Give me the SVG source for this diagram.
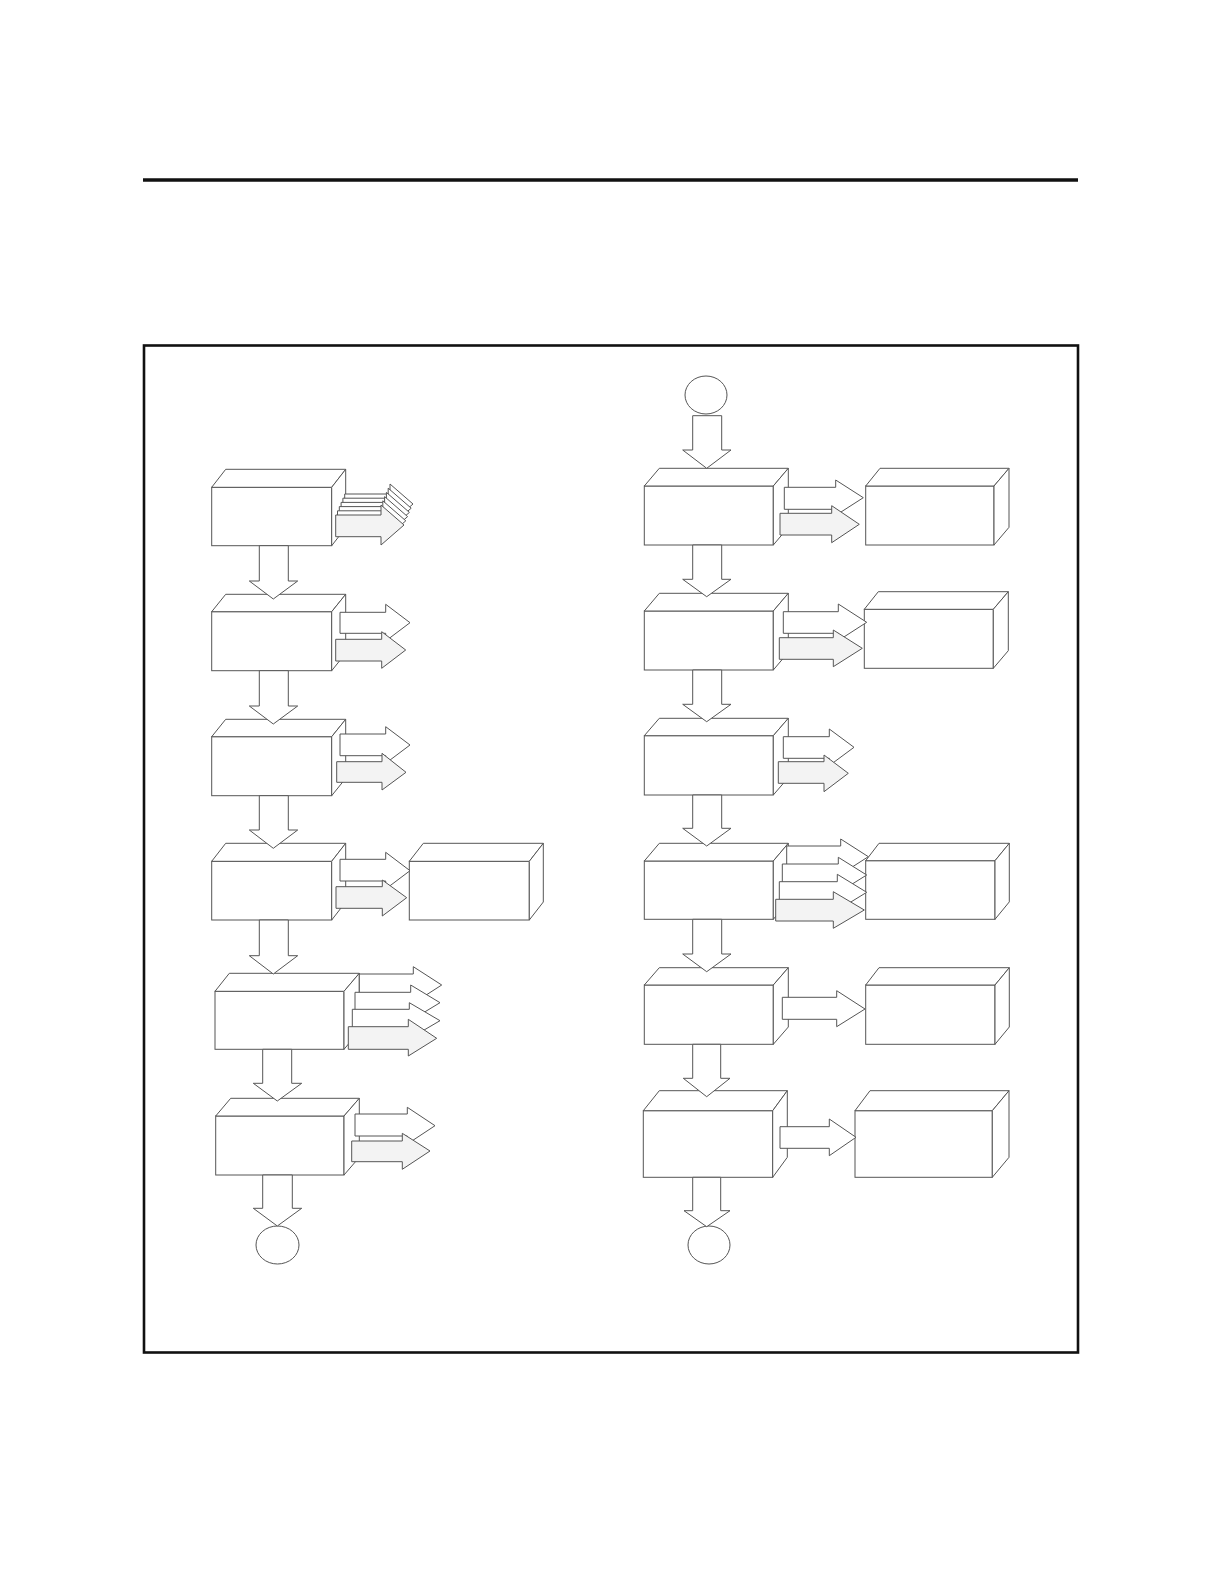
<svg xmlns="http://www.w3.org/2000/svg" width="1224" height="1584" viewBox="0 0 1224 1584">
<style>
.bx{fill:#fff;stroke:#555;stroke-width:1;stroke-linejoin:miter}
.aw{fill:#fff;stroke:#555;stroke-width:1}
.ag{fill:#f3f3f3;stroke:#555;stroke-width:1}
.ad{fill:#fff;stroke:#555;stroke-width:1}
.ci{fill:#fff;stroke:#555;stroke-width:1}
</style>
<rect width="1224" height="1584" fill="#fff"/>
<line x1="143" y1="180" x2="1078" y2="180" stroke="#111" stroke-width="3.5"/>
<rect x="144" y="345.5" width="934" height="1007" fill="none" stroke="#111" stroke-width="2.6"/>

<!-- Left column boxes -->
<g id="L1"><rect class="bx" x="211.7" y="487.3" width="120" height="58.4"/><polygon class="bx" points="211.7,487.3 225.7,469.3 345.7,469.3 331.7,487.3"/><polygon class="bx" points="331.7,487.3 345.7,469.3 345.7,527.7 331.7,545.7"/></g>
<g id="L2"><rect class="bx" x="211.7" y="611.7" width="120" height="59"/><polygon class="bx" points="211.7,611.7 225.7,594.3 345.7,594.3 331.7,611.7"/><polygon class="bx" points="331.7,611.7 345.7,594.3 345.7,653.3 331.7,670.7"/></g>
<g id="L3"><rect class="bx" x="211.7" y="736.7" width="120" height="59"/><polygon class="bx" points="211.7,736.7 225.7,719.3 345.7,719.3 331.7,736.7"/><polygon class="bx" points="331.7,736.7 345.7,719.3 345.7,778.3 331.7,795.7"/></g>
<g id="L4"><rect class="bx" x="211.7" y="861.3" width="120" height="58.7"/><polygon class="bx" points="211.7,861.3 225.7,843.3 345.7,843.3 331.7,861.3"/><polygon class="bx" points="331.7,861.3 345.7,843.3 345.7,902 331.7,920"/></g>
<g id="L4s"><rect class="bx" x="409.3" y="861.3" width="120" height="58.7"/><polygon class="bx" points="409.3,861.3 423.3,843.3 543.3,843.3 529.3,861.3"/><polygon class="bx" points="529.3,861.3 543.3,843.3 543.3,902 529.3,920"/></g>
<g id="L5"><rect class="bx" x="215" y="991.3" width="129" height="58"/><polygon class="bx" points="215,991.3 229.3,973.3 359.3,973.3 344,991.3"/><polygon class="bx" points="344,991.3 359.3,973.3 359.3,1031.3 344,1049.3"/></g>
<g id="L6"><rect class="bx" x="215.7" y="1116" width="128.3" height="59"/><polygon class="bx" points="215.7,1116 230.7,1098.3 359.3,1098.3 344,1116"/><polygon class="bx" points="344,1116 359.3,1098.3 359.3,1157.3 344,1175"/></g>
<g id="LC"><ellipse class="ci" cx="277.5" cy="1245" rx="21.5" ry="19"/></g>

<!-- Right column boxes -->
<g id="RC"><ellipse class="ci" cx="706" cy="395" rx="21" ry="19"/></g>
<g id="R1"><rect class="bx" x="644.3" y="486" width="129" height="59"/><polygon class="bx" points="644.3,486 659.3,468.3 788.3,468.3 773.3,486"/><polygon class="bx" points="773.3,486 788.3,468.3 788.3,527.3 773.3,545"/></g>
<g id="R1s"><rect class="bx" x="865.7" y="486" width="128.3" height="59"/><polygon class="bx" points="865.7,486 880,468.3 1009,468.3 994,486"/><polygon class="bx" points="994,486 1009,468.3 1009,527.3 994,545"/></g>
<g id="R2"><rect class="bx" x="644.3" y="611" width="129" height="59"/><polygon class="bx" points="644.3,611 659.3,593.3 788.3,593.3 773.3,611"/><polygon class="bx" points="773.3,611 788.3,593.3 788.3,652.3 773.3,670"/></g>
<g id="R2s"><rect class="bx" x="864.3" y="609.3" width="129" height="59"/><polygon class="bx" points="864.3,609.3 878.3,591.7 1008.3,591.7 993.3,609.3"/><polygon class="bx" points="993.3,609.3 1008.3,591.7 1008.3,650.7 993.3,668.3"/></g>
<g id="R3"><rect class="bx" x="644.3" y="735.7" width="129" height="59.3"/><polygon class="bx" points="644.3,735.7 659.3,718.3 788.3,718.3 773.3,735.7"/><polygon class="bx" points="773.3,735.7 788.3,718.3 788.3,777.6 773.3,795"/></g>
<g id="R4"><rect class="bx" x="644.3" y="861" width="129" height="58.3"/><polygon class="bx" points="644.3,861 659.3,843.3 788.3,843.3 773.3,861"/><polygon class="bx" points="773.3,861 788.3,843.3 788.3,901.6 773.3,919.3"/></g>
<g id="R4s"><rect class="bx" x="865.7" y="860.7" width="129.3" height="58.6"/><polygon class="bx" points="865.7,860.7 879,843.3 1009.3,843.3 995,860.7"/><polygon class="bx" points="995,860.7 1009.3,843.3 1009.3,901.9 995,919.3"/></g>
<g id="R5"><rect class="bx" x="644.3" y="985" width="129" height="59.3"/><polygon class="bx" points="644.3,985 659.3,967.7 788.3,967.7 773.3,985"/><polygon class="bx" points="773.3,985 788.3,967.7 788.3,1027 773.3,1044.3"/></g>
<g id="R5s"><rect class="bx" x="865.7" y="985" width="129.3" height="59.3"/><polygon class="bx" points="865.7,985 879,967.7 1009.3,967.7 995,985"/><polygon class="bx" points="995,985 1009.3,967.7 1009.3,1027 995,1044.3"/></g>
<g id="R6"><rect class="bx" x="643.3" y="1110.7" width="129.4" height="66.6"/><polygon class="bx" points="643.3,1110.7 659.3,1090.7 787.3,1090.7 772.7,1110.7"/><polygon class="bx" points="772.7,1110.7 787.3,1090.7 787.3,1157.3 772.7,1177.3"/></g>
<g id="R6s"><rect class="bx" x="855" y="1110.7" width="137.3" height="66.6"/><polygon class="bx" points="855,1110.7 870,1090.7 1009,1090.7 992.3,1110.7"/><polygon class="bx" points="992.3,1110.7 1009,1090.7 1009,1157.3 992.3,1177.3"/></g>
<g id="RCb"><ellipse class="ci" cx="709" cy="1245" rx="21" ry="19"/></g>

<g id="connectors">
<!-- down arrows left -->
<polygon class="ad" points="259.3,545.7 288.3,545.7 288.3,581 297.7,581 273.3,599 249.3,581 259.3,581"/>
<polygon class="ad" points="259.3,670.7 288.3,670.7 288.3,706 297.7,706 273.3,724 249.3,706 259.3,706"/>
<polygon class="ad" points="259.3,795.7 288.3,795.7 288.3,830 297.7,830 273.3,848.3 249.3,830 259.3,830"/>
<polygon class="ad" points="259.3,920 288.3,920 288.3,955.7 297.7,955.7 273.3,974 249.3,955.7 259.3,955.7"/>
<polygon class="ad" points="262.7,1049.3 291.7,1049.3 291.7,1083.3 301.7,1083.3 277.3,1101 253.3,1083.3 262.7,1083.3"/>
<polygon class="ad" points="262.7,1175 292.3,1175 292.3,1208.3 301.7,1208.3 277.3,1226 253.3,1208.3 262.7,1208.3"/>
<!-- down arrows right -->
<polygon class="ad" points="692.7,415.7 721.7,415.7 721.7,450 731,450 706.7,468.3 682.7,450 692.7,450"/>
<polygon class="ad" points="692.7,545 721.7,545 721.7,579.3 731,579.3 706.7,596.7 682.7,579.3 692.7,579.3"/>
<polygon class="ad" points="692.7,670 721.7,670 721.7,704.3 731,704.3 706.7,721.7 682.7,704.3 692.7,704.3"/>
<polygon class="ad" points="692.7,795 721.7,795 721.7,828.3 731,828.3 706.7,846 682.7,828.3 692.7,828.3"/>
<polygon class="ad" points="692.7,919.3 721.7,919.3 721.7,954 731,954 706.7,971.7 682.7,954 692.7,954"/>
<polygon class="ad" points="692.7,1044.3 720.7,1044.3 720.7,1078.3 730,1078.3 706.7,1096.7 683.3,1078.3 692.7,1078.3"/>
<polygon class="ad" points="692.7,1177.3 720.7,1177.3 720.7,1210.7 730,1210.7 706.7,1226.7 684,1210.7 692.7,1210.7"/>

<!-- L1 stacked output arrows -->
<g id="L1out">
<polygon class="aw" transform="translate(9,-21)" points="335.7,515 381,515 381,505 404,525 381,545 381,536.7 335.7,536.7"/>
<polygon class="aw" transform="translate(7.2,-16.8)" points="335.7,515 381,515 381,505 404,525 381,545 381,536.7 335.7,536.7"/>
<polygon class="aw" transform="translate(5.4,-12.6)" points="335.7,515 381,515 381,505 404,525 381,545 381,536.7 335.7,536.7"/>
<polygon class="aw" transform="translate(3.6,-8.4)" points="335.7,515 381,515 381,505 404,525 381,545 381,536.7 335.7,536.7"/>
<polygon class="aw" transform="translate(1.8,-4.2)" points="335.7,515 381,515 381,505 404,525 381,545 381,536.7 335.7,536.7"/>
<polygon class="ag" points="335.7,515 381,515 381,505 404,525 381,545 381,536.7 335.7,536.7"/>
</g>
<!-- L2 -->
<polygon class="aw" points="340,612.3 385.7,612.3 385.7,604.3 410,622.7 385.7,641 385.7,633.3 340,633.3"/>
<polygon class="ag" points="335.7,639.3 381.7,639.3 381.7,631.7 405.7,650 381.7,668.3 381.7,661 335.7,661"/>
<!-- L3 -->
<polygon class="aw" points="340,734 385.7,734 385.7,726.7 410,745 385.7,763.3 385.7,755.7 340,755.7"/>
<polygon class="ag" points="336.7,761.7 382,761.7 382,753.3 406,772.3 382,790 382,782.3 336.7,782.3"/>
<!-- L4 -->
<polygon class="aw" points="340,859.3 385.7,859.3 385.7,852.3 410,870.7 385.7,889 385.7,881 340,881"/>
<polygon class="ag" points="336,886.7 382.3,886.7 382.3,880 406.7,897.7 382.3,916 382.3,908.3 336,908.3"/>
<!-- L5 -->
<polygon class="aw" points="359.3,974 413.3,974 413.3,966.7 441.7,985 413.3,1003.3 413.3,996 359.3,996"/>
<polygon class="aw" points="355,992.3 410.7,992.3 410.7,985 440,1002.7 410.7,1020.4 410.7,1014.3 355,1014.3"/>
<polygon class="aw" points="352.3,1009.3 409.3,1009.3 409.3,1002.7 440,1020.7 409.3,1038.7 409.3,1031.3 352.3,1031.3"/>
<polygon class="ag" points="348.3,1026.7 408.3,1026.7 408.3,1019.3 436.7,1038.3 408.3,1056 408.3,1049.3 348.3,1049.3"/>
<!-- L6 -->
<polygon class="aw" points="355,1114 407.3,1114 407.3,1107.3 435,1125.7 407.3,1144 407.3,1136 355,1136"/>
<polygon class="ag" points="351.7,1141 402.3,1141 402.3,1133.3 430,1151 402.3,1169.3 402.3,1161.7 351.7,1161.7"/>
<!-- R1 -->
<polygon class="aw" points="784.3,487.3 835.7,487.3 835.7,480 863.3,497.7 835.7,515.4 835.7,509.3 784.3,509.3"/>
<polygon class="ag" points="780,513.3 831.7,513.3 831.7,505.7 859.3,524.3 831.7,542.7 831.7,535 780,535"/>
<!-- R2 -->
<polygon class="aw" points="783.3,611.7 838.3,611.7 838.3,604 866.7,622.3 838.3,640.6 838.3,633.3 783.3,633.3"/>
<polygon class="ag" points="779.3,637.7 833.3,637.7 833.3,630 862.3,648.3 833.3,666.7 833.3,659.3 779.3,659.3"/>
<!-- R3 -->
<polygon class="aw" points="783.3,736.7 829.3,736.7 829.3,729 854,747.3 829.3,765.6 829.3,758.3 783.3,758.3"/>
<polygon class="ag" points="778.3,761.7 824,761.7 824,755 848.3,773.3 824,791.7 824,783.3 778.3,783.3"/>
<!-- R4 -->
<polygon class="aw" points="786.7,846 840.7,846 840.7,839 868.3,856.7 840.7,874.4 840.7,868 786.7,868"/>
<polygon class="aw" points="782.3,864 838.3,864 838.3,857.3 866.7,875 838.3,892.7 838.3,886 782.3,886"/>
<polygon class="aw" points="779.3,881.7 837.3,881.7 837.3,874.3 866.7,892.3 837.3,910.3 837.3,903.7 779.3,903.7"/>
<polygon class="ag" points="775.7,899.3 833.3,899.3 833.3,891.7 864.3,910 833.3,928.3 833.3,921 775.7,921"/>
<!-- R5 -->
<polygon class="aw" points="782.3,997.3 836.7,997.3 836.7,990.7 865,1009 836.7,1026.7 836.7,1019.3 782.3,1019.3"/>
<!-- R6 -->
<polygon class="aw" points="780,1126.7 829.3,1126.7 829.3,1119 856,1137.3 829.3,1155.7 829.3,1148.3 780,1148.3"/>
</g>
</svg>
